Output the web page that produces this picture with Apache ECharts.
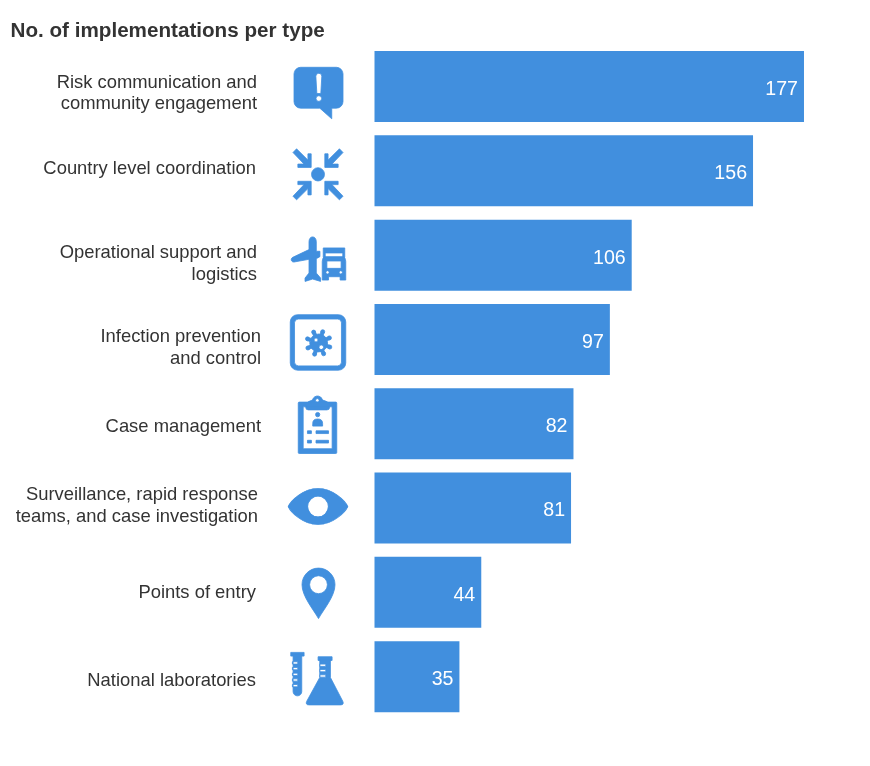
<!DOCTYPE html>
<html><head><meta charset="utf-8">
<style>html,body{margin:0;padding:0;background:#fff}#c{width:870px;height:766px}</style>
<script src="https://cdn.jsdelivr.net/npm/echarts@6/dist/echarts.min.js"></script>
</head><body><div id="c"></div>
<script>
const categories = ['Risk communication and\ncommunity engagement','Country level coordination','Operational support and\nlogistics','Infection prevention\nand control','Case management','Surveillance, rapid response\nteams, and case investigation','Points of entry','National laboratories'];
const values = [177,156,106,97,82,81,44,35];
const labelRight = [257,256,257,261,261,258,256,256];
const labelShift = [7,-2,9,8.5,3.5,-2,1,4.5];
const BLUE = '#418fde';

function hole(cx,cy,r){return `M${cx-r} ${cy}A${r} ${r} 0 0 0 ${cx+r} ${cy}A${r} ${r} 0 0 0 ${cx-r} ${cy}Z`;}
function disc(cx,cy,r){return `M${cx-r} ${cy}A${r} ${r} 0 0 1 ${cx+r} ${cy}A${r} ${r} 0 0 1 ${cx-r} ${cy}Z`;}
function rect(x0,y0,x1,y1){return `M${x0} ${y0}H${x1}V${y1}H${x0}Z`;}
function rectHole(x0,y0,x1,y1){return `M${x0} ${y0}V${y1}H${x1}V${y0}Z`;}
function poly(p){return 'M'+p.map(a=>a.join(' ')).join('L')+'Z';}

const iconBubble = 'M62 37H170A20 20 0 0 1 190 57V140A20 20 0 0 1 170 160H156V192L120 160H62A20 20 0 0 1 42 140V57A20 20 0 0 1 62 37Z'
 + 'M108 64L111 116H123L126 64A9 9 0 0 0 108 64Z' + hole(117,131,8.5);

const arrowPts = [[21,21],[62,21],[62,31],[43,31],[77,66],[66,77],[31,43],[31,62],[21,62]];
function arrow(sx,sy){
  let p = arrowPts.map(a=>[113+sx*a[0],358+sy*a[1]]);
  if(sx*sy<0) p = p.reverse();
  return poly(p);
}
const iconArrows = disc(113,358,20)+arrow(1,1)+arrow(-1,1)+arrow(1,-1)+arrow(-1,-1);

const iconTransport = 'M98 547C105 547 109 553 109 562V590H120V606L109 612V655L122 670V680L98 673L75 680V670L87 655V614L42 622C33 623 30 612 38 608L87 585V562C87 553 91 547 98 547Z'
 + 'M130 580H195V608H189V595H136V608H130Z'
 + 'M136 606H189Q197 606 198 621V676H181V666H146V676H127V621Q128 606 136 606Z'
 + rectHole(141,619,184,641) + hole(143,653,5) + hole(183,653,5);

function spikes(cx,cy,n,r0,r1,w,knob){
  let s='';
  for(let i=0;i<n;i++){
    const t=i*2*Math.PI/n+0.35, c=Math.cos(t), d=Math.sin(t);
    const pt=(a,b)=>[+(cx+a*c-b*d).toFixed(2),+(cy+a*d+b*c).toFixed(2)];
    s+=poly([pt(r0,-w),pt(r1,-w),pt(r1,w),pt(r0,w)]);
    const e=pt(r1,0); s+=disc(e[0],e[1],knob);
  }
  return s;
}
const iconVirus = 'M52 30H176A22 22 0 0 1 198 52V175A22 22 0 0 1 176 197H52A22 22 0 0 1 30 175V52A22 22 0 0 1 52 30Z'
 + 'M54 43A12 12 0 0 0 43 54V173A12 12 0 0 0 54 184H174A12 12 0 0 0 185 173V54A12 12 0 0 0 174 43Z'
 + disc(116,115,27) + spikes(116,115,8,22,36,5,6) + hole(124,128,7) + hole(108,106,6);

const iconClipboard = 'M58 295H169Q172 295 172 298V444Q172 447 169 447H58Q55 447 55 444V298Q55 295 58 295Z'
 + rectHole(70,309,158,433)
 + 'M78 312V305Q78 296 90 292L98 289A16 16 0 0 1 129 289L138 292Q150 296 150 305V312Q150 318 142 318H86Q78 318 78 312Z'
 + hole(113,290,5.5)
 + disc(114,332,6.5)
 + 'M99 366V358Q99 345 114 345Q129 345 129 358V366Z'
 + rect(83,380,95,388)+rect(109,380,147,388)+rect(83,408,95,416)+rect(109,408,147,416);

const iconEye = 'M24 608C32 590 70 552 114 552C158 552 196 590 204 608C196 626 158 664 114 664C70 664 32 626 24 608Z' + hole(114,608,31.5);

const iconPin = 'M115 40A50 50 0 0 1 165 90C165 125 130 165 115 192C100 165 65 125 65 90A50 50 0 0 1 115 40Z' + hole(115,90,27);

const iconLab = rect(33,290,73,301)
 + 'M40 299H66V407A13 13 0 0 1 40 407Z'
 + rectHole(38,318,54,325)+rectHole(38,335,54,342)+rectHole(38,352,54,359)+rectHole(38,369,54,376)+rectHole(38,386,54,393)
 + rect(115,303,157,314)
 + 'M120 312H152V365L189 436Q194 447 182 447H88Q76 447 81 436L120 365Z'
 + rectHole(120,325,138,332)+rectHole(120,341,138,348)+rectHole(120,357,138,364);

const icons = [iconBubble,iconArrows,iconTransport,iconVirus,iconClipboard,iconEye,iconPin,iconLab];
const iconSize = [[49,51.5],[50,51],[54.5,44.5],[55.5,55.5],[38.5,57.5],[59.5,36.5],[33,50.5],[52.5,52.5]];
const iconOffset = [[0.5,6.5],[0,3.5],[0.5,4],[0,3],[-0.5,1],[0,-1.5],[0.5,1],[-1,2]];

const chart = echarts.init(document.getElementById('c'), null, {renderer:'canvas'});
const TOP = 44.4, H = 674.4, LEFT = 374.5;
const labelFont = {fontFamily:'Liberation Sans',fontSize:18.4,lineHeight:21.5,color:'#333333'};
chart.setOption({
  backgroundColor:'#ffffff',
  animation:false,
  title:{text:'No. of implementations per type',left:10.5,top:21,padding:0,textStyle:{fontFamily:'Liberation Sans',fontSize:20.65,fontWeight:'bold',color:'#333333'}},
  grid:[
    {left:LEFT,top:TOP,width:485.3,height:H},
    {left:288,top:TOP,width:60,height:H}
  ],
  xAxis:[
    {gridIndex:0,type:'value',min:0,max:200,show:false},
    {gridIndex:1,type:'value',min:0,max:1,show:false}
  ],
  yAxis:[
    {gridIndex:0,type:'category',inverse:true,data:categories,
     axisLine:{show:false},axisTick:{show:false},axisLabel:{show:false}},
    {gridIndex:1,type:'category',inverse:true,data:categories,show:false}
  ],
  series:[
    {type:'bar',xAxisIndex:0,yAxisIndex:0,data:values,barWidth:71,
     itemStyle:{color:BLUE},
     label:{show:true,position:'insideRight',distance:6,offset:[0,3],color:'#ffffff',fontFamily:'Liberation Sans',fontSize:19.6}},
    {type:'scatter',xAxisIndex:1,yAxisIndex:1,clip:false,silent:true,
     data:categories.map((c,i)=>({
       value:[0.5,c],
       symbol:'path://'+icons[i],
       symbolSize:iconSize[i],
       symbolOffset:iconOffset[i]
     })),
     itemStyle:{color:BLUE,opacity:1,borderColor:BLUE,borderWidth:0.8}},
    {type:'scatter',xAxisIndex:0,yAxisIndex:0,clip:false,silent:true,symbolSize:0,
     itemStyle:{opacity:1},
     data:categories.map((c,i)=>({
       value:[0,c],
       label:{show:true,position:'left',distance:0,align:'right',verticalAlign:'middle',
         formatter:c,offset:[labelRight[i]-LEFT,labelShift[i]],...labelFont}
     }))}
  ]
});
</script></body></html>
